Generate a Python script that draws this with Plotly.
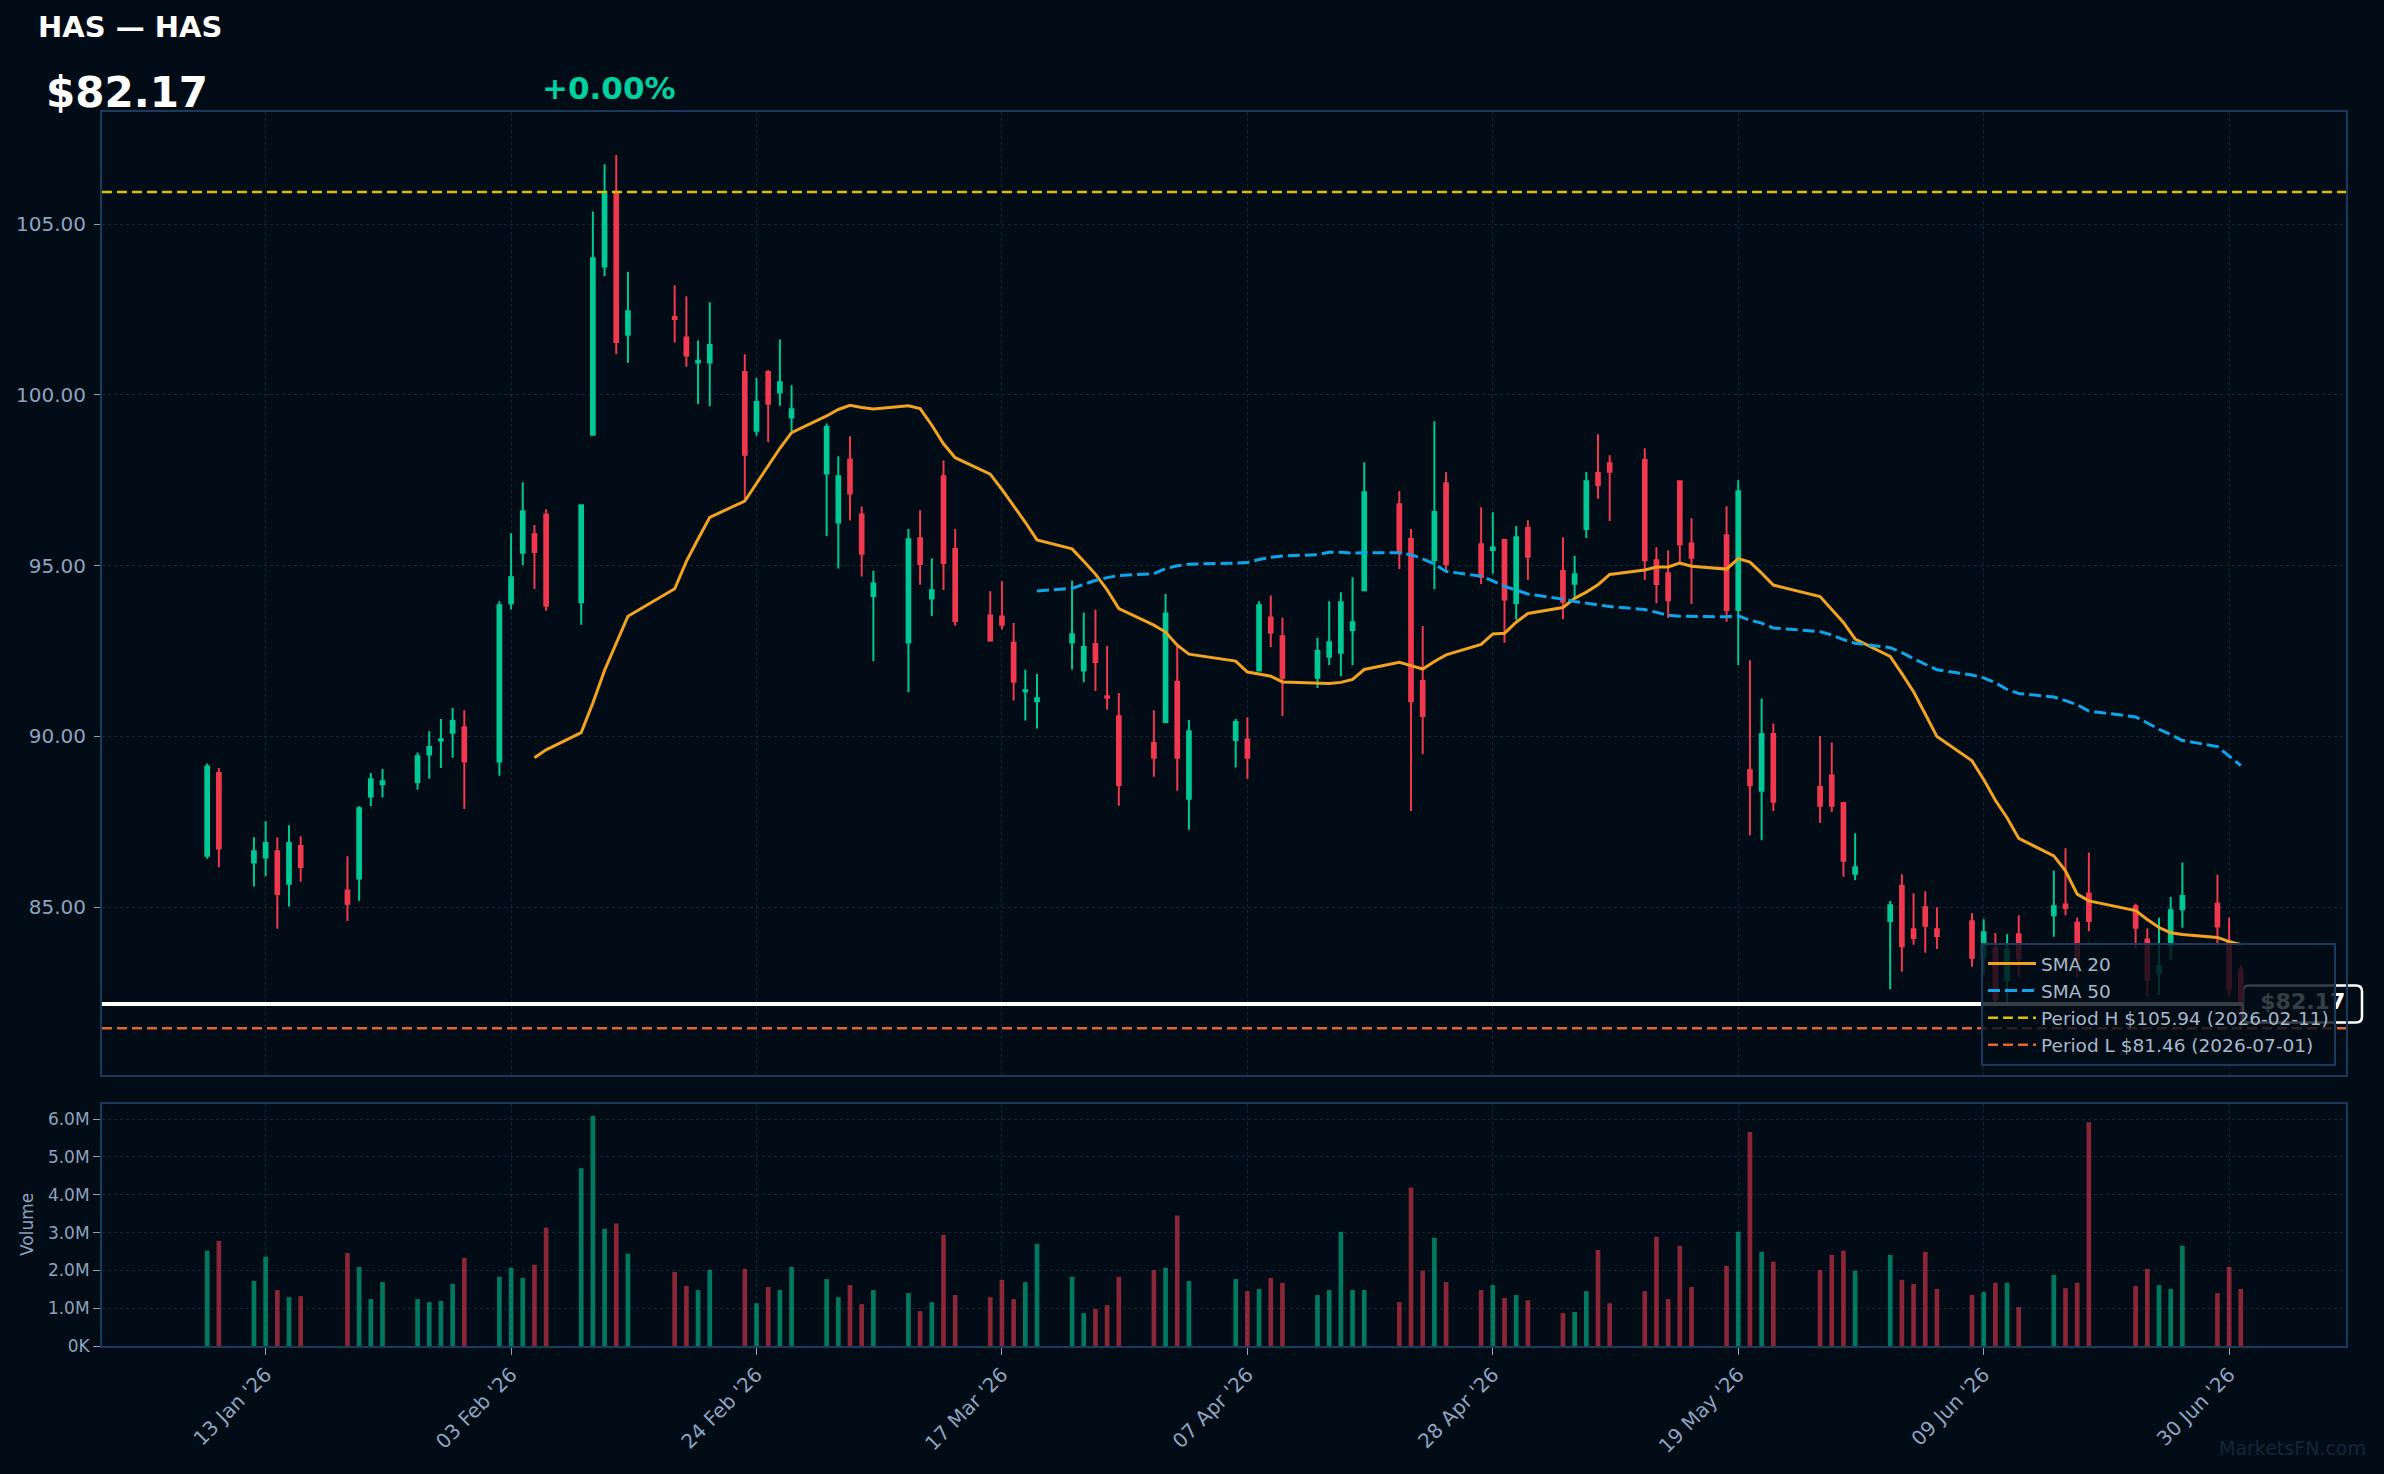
import pandas as pd
import plotly.graph_objects as go

# ---------------- data ----------------
TICKER = "HAS"
dates = [
    "2026-01-08", "2026-01-09", "2026-01-12", "2026-01-13", "2026-01-14", "2026-01-15", "2026-01-16",
    "2026-01-20", "2026-01-21", "2026-01-22", "2026-01-23", "2026-01-26", "2026-01-27", "2026-01-28",
    "2026-01-29", "2026-01-30", "2026-02-02", "2026-02-03", "2026-02-04", "2026-02-05", "2026-02-06",
    "2026-02-09", "2026-02-10", "2026-02-11", "2026-02-12", "2026-02-13", "2026-02-17", "2026-02-18",
    "2026-02-19", "2026-02-20", "2026-02-23", "2026-02-24", "2026-02-25", "2026-02-26", "2026-02-27",
    "2026-03-02", "2026-03-03", "2026-03-04", "2026-03-05", "2026-03-06", "2026-03-09", "2026-03-10",
    "2026-03-11", "2026-03-12", "2026-03-13", "2026-03-16", "2026-03-17", "2026-03-18", "2026-03-19",
    "2026-03-20", "2026-03-23", "2026-03-24", "2026-03-25", "2026-03-26", "2026-03-27", "2026-03-30",
    "2026-03-31", "2026-04-01", "2026-04-02", "2026-04-06", "2026-04-07", "2026-04-08", "2026-04-09",
    "2026-04-10", "2026-04-13", "2026-04-14", "2026-04-15", "2026-04-16", "2026-04-17", "2026-04-20",
    "2026-04-21", "2026-04-22", "2026-04-23", "2026-04-24", "2026-04-27", "2026-04-28", "2026-04-29",
    "2026-04-30", "2026-05-01", "2026-05-04", "2026-05-05", "2026-05-06", "2026-05-07", "2026-05-08",
    "2026-05-11", "2026-05-12", "2026-05-13", "2026-05-14", "2026-05-15", "2026-05-18", "2026-05-19",
    "2026-05-20", "2026-05-21", "2026-05-22", "2026-05-26", "2026-05-27", "2026-05-28", "2026-05-29",
    "2026-06-01", "2026-06-02", "2026-06-03", "2026-06-04", "2026-06-05", "2026-06-08", "2026-06-09",
    "2026-06-10", "2026-06-11", "2026-06-12", "2026-06-15", "2026-06-16", "2026-06-17", "2026-06-18",
    "2026-06-22", "2026-06-23", "2026-06-24", "2026-06-25", "2026-06-26", "2026-06-29", "2026-06-30",
    "2026-07-01",
]
opens = [
    86.51, 88.93, 86.31, 86.46, 86.64, 85.69, 86.79,
    85.49, 85.84, 88.24, 88.60, 88.67, 89.47, 89.88,
    90.11, 90.27, 89.27, 93.90, 95.38, 95.92, 96.50,
    93.93, 98.83, 103.76, 105.90, 101.76, 102.28, 101.68,
    100.95, 100.95, 100.67, 98.95, 100.67, 100.07, 99.34,
    97.70, 96.26, 98.11, 96.50, 94.11, 92.75, 95.80,
    94.04, 97.62, 95.49, 93.54, 93.51, 92.74, 91.32,
    91.03, 92.75, 91.93, 92.71, 91.18, 90.59, 89.81,
    90.42, 91.60, 88.18, 89.90, 89.91, 91.93, 93.48,
    92.93, 91.72, 92.33, 92.45, 93.12, 94.28, 96.80,
    95.78, 91.62, 95.16, 97.41, 95.63, 95.46, 95.75,
    93.91, 96.10, 94.84, 94.47, 96.07, 97.71, 98.00,
    98.09, 95.16, 94.78, 97.47, 95.65, 95.89, 93.70,
    89.01, 88.41, 90.07, 88.52, 88.86, 88.05, 85.98,
    84.60, 85.62, 84.36, 85.00, 84.36, 84.59, 83.55,
    83.80, 82.87, 84.21, 84.77, 85.08, 84.55, 85.40,
    85.03, 84.06, 83.07, 83.88, 84.94, 85.10, 84.00,
    83.18,
]
highs = [
    89.21, 89.08, 87.05, 87.52, 87.05, 87.40, 87.08,
    86.49, 87.96, 88.93, 89.05, 89.53, 90.15, 90.51,
    90.83, 90.77, 93.96, 95.95, 97.44, 96.19, 96.65,
    96.80, 105.37, 106.75, 107.02, 103.60, 103.21, 102.89,
    101.59, 102.71, 101.19, 100.49, 100.73, 101.62, 100.28,
    99.16, 98.20, 98.79, 96.73, 94.84, 96.07, 96.62,
    95.22, 98.08, 96.07, 94.25, 94.54, 93.32, 91.95,
    91.83, 94.56, 93.63, 93.71, 92.65, 91.27, 90.77,
    94.17, 92.66, 90.48, 90.51, 90.56, 93.96, 94.13,
    93.48, 92.89, 93.96, 94.22, 94.66, 98.03, 97.18,
    96.07, 93.23, 99.23, 97.74, 96.71, 96.56, 95.78,
    96.16, 96.33, 95.83, 95.28, 97.74, 98.85, 98.23,
    98.44, 95.54, 95.45, 97.50, 96.39, 96.74, 97.50,
    92.23, 91.11, 90.38, 90.01, 89.82, 88.08, 87.17,
    85.18, 85.97, 85.41, 85.47, 85.00, 84.83, 84.65,
    84.25, 84.21, 84.77, 86.08, 86.73, 84.70, 86.60,
    85.10, 84.38, 84.69, 85.30, 86.31, 85.95, 84.70,
    83.30,
]
lows = [
    86.42, 86.17, 85.61, 85.91, 84.37, 85.02, 85.75,
    84.60, 85.19, 87.96, 88.21, 88.44, 88.76, 89.08,
    89.38, 87.88, 88.85, 93.72, 95.01, 94.32, 93.68,
    93.27, 98.80, 103.48, 101.19, 100.94, 101.53, 100.82,
    99.73, 99.67, 96.92, 98.80, 98.61, 99.68, 98.94,
    95.87, 94.92, 96.32, 94.68, 92.21, 91.30, 94.44,
    93.53, 94.29, 93.24, 92.77, 93.13, 91.05, 90.47,
    90.23, 91.96, 91.59, 91.33, 90.78, 87.97, 88.82,
    90.39, 88.41, 87.27, 89.09, 88.76, 91.92, 92.62,
    90.60, 91.42, 92.09, 91.77, 92.09, 94.28, 94.90,
    87.82, 89.48, 94.31, 94.81, 94.46, 94.76, 92.74,
    93.42, 94.58, 93.43, 94.04, 95.81, 96.96, 96.31,
    94.58, 93.90, 93.47, 95.11, 93.88, 93.36, 92.09,
    87.11, 86.96, 87.82, 87.47, 87.79, 85.89, 85.79,
    82.60, 83.11, 83.90, 83.67, 83.78, 83.26, 83.01,
    82.10, 82.23, 83.00, 84.14, 84.77, 82.95, 84.30,
    83.79, 82.38, 82.43, 83.46, 84.40, 83.86, 82.40,
    81.46,
]
closes = [
    89.12, 86.72, 86.64, 86.88, 85.39, 86.88, 86.18,
    85.10, 87.90, 88.75, 88.69, 89.42, 89.69, 89.92,
    90.45, 89.27, 93.84, 94.66, 96.59, 95.40, 93.83,
    96.77, 104.00, 105.94, 101.55, 102.45, 102.22, 101.15,
    101.00, 101.46, 98.25, 99.79, 99.74, 100.37, 99.58,
    99.06, 97.62, 97.11, 95.35, 94.48, 95.77, 95.05,
    94.28, 95.08, 93.38, 92.81, 93.27, 91.60, 91.35,
    91.12, 92.99, 92.62, 92.18, 91.13, 88.58, 89.38,
    93.60, 89.38, 90.15, 90.42, 89.38, 93.84, 93.04,
    91.72, 92.50, 92.76, 93.93, 93.34, 97.15, 95.36,
    91.03, 90.60, 96.57, 95.04, 94.67, 95.53, 94.01,
    95.83, 95.26, 93.94, 94.75, 97.47, 97.36, 97.75,
    95.16, 94.46, 93.99, 95.63, 95.23, 93.70, 97.18,
    88.57, 90.07, 88.09, 87.97, 87.97, 86.36, 86.17,
    85.06, 83.86, 84.10, 84.46, 84.16, 83.52, 84.27,
    82.30, 83.78, 83.50, 85.03, 84.98, 83.47, 84.60,
    84.40, 82.88, 83.28, 84.91, 85.33, 84.44, 82.60,
    82.17,
]
volumes = [
    2520000, 2780000, 1720000, 2360000, 1480000, 1290000, 1320000,
    2460000, 2090000, 1240000, 1690000, 1240000, 1160000, 1190000,
    1640000, 2330000, 1830000, 2070000, 1800000, 2150000, 3130000,
    4700000, 6080000, 3100000, 3240000, 2440000, 1960000, 1590000,
    1480000, 2010000, 2040000, 1130000, 1560000, 1480000, 2090000,
    1770000, 1290000, 1610000, 1110000, 1480000, 1400000, 920000,
    1160000, 2940000, 1350000, 1290000, 1750000, 1240000, 1690000,
    2700000, 1830000, 870000, 980000, 1080000, 1830000, 2010000,
    2070000, 3450000, 1720000, 1770000, 1450000, 1510000, 1800000,
    1670000, 1350000, 1480000, 3020000, 1480000, 1480000, 1160000,
    4190000, 1990000, 2860000, 1690000, 1480000, 1610000, 1270000,
    1350000, 1210000, 870000, 900000, 1450000, 2540000, 1130000,
    1450000, 2890000, 1240000, 2650000, 1560000, 2120000, 3020000,
    5660000, 2490000, 2230000, 2010000, 2410000, 2520000, 1990000,
    2410000, 1750000, 1640000, 2490000, 1510000, 1350000, 1430000,
    1670000, 1670000, 1030000, 1880000, 1530000, 1670000, 5920000,
    1590000, 2040000, 1610000, 1510000, 2650000, 1400000, 2090000,
    1510000,
]

price_tickvals = [85, 90, 95, 100, 105]
vol_tickvals = [0, 1000000, 2000000, 3000000, 4000000, 5000000, 6000000]
vol_ticktext = ["0K", "1.0M", "2.0M", "3.0M", "4.0M", "5.0M", "6.0M"]

period_high = 105.94
period_high_date = "2026-02-11"
period_low = 81.46
period_low_date = "2026-07-01"
last_price = closes[-1]
change_pct = 0.00

# ---------------- styling ----------------
W, H = 2384, 1474
ML, MR, MT, MB = 102, 38, 112, 128
PW, PH = W - ML - MR, H - MT - MB


def px_x(px):
    return (px - ML) / PW


def px_y(py):
    return (H - MB - py) / PH


BG = "#020c17"
UP = "#00c896"
DN = "#f0384f"
UP_V = "rgba(0,200,150,0.58)"
DN_V = "rgba(240,56,79,0.58)"
GRID = "rgba(70,95,130,0.30)"
BORDER = "#1d3a5c"
TICK = "#8fa3bf"
FONT = "DejaVu Sans"

x_dt = pd.to_datetime(dates)
close_s = pd.Series(closes)
sma20 = close_s.rolling(20).mean()
sma50 = close_s.rolling(50).mean()
day_ms = 86400000
x_range = [x_dt[0] - pd.Timedelta(days=9), x_dt[-1] + pd.Timedelta(days=9)]

fig = go.Figure()

fig.add_trace(go.Candlestick(
    x=x_dt, open=opens, high=highs, low=lows, close=closes,
    increasing=dict(line=dict(color=UP, width=2), fillcolor=UP),
    decreasing=dict(line=dict(color=DN, width=2), fillcolor=DN),
    whiskerwidth=0, showlegend=False, hoverinfo="skip",
    xaxis="x", yaxis="y",
))
fig.add_trace(go.Scatter(
    x=x_dt, y=sma20, mode="lines", name="SMA 20",
    line=dict(color="#f2a31f", width=3), xaxis="x", yaxis="y",
))
fig.add_trace(go.Scatter(
    x=x_dt, y=sma50, mode="lines", name="SMA 50",
    line=dict(color="#0ea5e9", width=3, dash="12px,5px"), xaxis="x", yaxis="y",
))
fig.add_trace(go.Scatter(
    x=[None], y=[None], mode="lines",
    name=f"Period H ${period_high:.2f} ({period_high_date})",
    line=dict(color="#e0bf00", width=2.5, dash="10px,5px"), xaxis="x", yaxis="y",
))
fig.add_trace(go.Scatter(
    x=[None], y=[None], mode="lines",
    name=f"Period L ${period_low:.2f} ({period_low_date})",
    line=dict(color="#e5652e", width=2.5, dash="10px,5px"), xaxis="x", yaxis="y",
))

vol_colors = [UP_V if c >= o else DN_V for o, c in zip(opens, closes)]
fig.add_trace(go.Bar(
    x=x_dt, y=volumes, marker=dict(color=vol_colors, line=dict(width=0)),
    width=0.4 * day_ms, showlegend=False, hoverinfo="skip",
    xaxis="x2", yaxis="y2",
))

# last-price label text (drawn under the legend, like the reference)
label_x = x_dt[-1] + pd.Timedelta(days=5.3)
fig.add_trace(go.Scatter(
    x=[label_x], y=[last_price], mode="text",
    text=[f"<b>${last_price:.2f}</b>"],
    textfont=dict(family=FONT, size=22, color="white"),
    textposition="middle center", cliponaxis=False,
    showlegend=False, hoverinfo="skip", xaxis="x", yaxis="y",
))

box_x0, box_x1 = px_x(2243), px_x(2362)
half_h = 18.5 / 34.16
rx, ry = 6 / PW, 6 / 34.16
y0, y1 = last_price - half_h, last_price + half_h
box_path = (
    f"M {box_x0 + rx},{y0} L {box_x1 - rx},{y0} Q {box_x1},{y0} {box_x1},{y0 + ry} "
    f"L {box_x1},{y1 - ry} Q {box_x1},{y1} {box_x1 - rx},{y1} "
    f"L {box_x0 + rx},{y1} Q {box_x0},{y1} {box_x0},{y1 - ry} "
    f"L {box_x0},{y0 + ry} Q {box_x0},{y0} {box_x0 + rx},{y0} Z"
)

shapes = [
    dict(type="line", xref="paper", yref="y", x0=0, x1=1, y0=period_high, y1=period_high,
         line=dict(color="#e0bf00", width=2.5, dash="10px,5px"), layer="above"),
    dict(type="line", xref="paper", yref="y", x0=0, x1=1, y0=period_low, y1=period_low,
         line=dict(color="#e5652e", width=2.5, dash="10px,5px"), layer="above"),
    dict(type="line", xref="paper", yref="y", x0=0, x1=box_x0, y0=last_price, y1=last_price,
         line=dict(color="#ffffff", width=4), layer="above"),
    dict(type="path", xref="paper", yref="y", path=box_path,
         fillcolor=BG, line=dict(color="#ffffff", width=2.5), layer="below"),
]

annotations = [
    dict(text=f"<b>{TICKER} — {TICKER}</b>", x=px_x(36), y=px_y(27), xref="paper", yref="paper",
         xanchor="left", yanchor="middle", showarrow=False,
         font=dict(family=FONT, size=29, color="#ffffff")),
    dict(text=f"<b>${last_price:.2f}</b>", x=px_x(44), y=px_y(93), xref="paper", yref="paper",
         xanchor="left", yanchor="middle", showarrow=False,
         font=dict(family=FONT, size=42, color="#ffffff")),
    dict(text=f"<b>{change_pct:+.2f}%</b>", x=px_x(540), y=px_y(88), xref="paper", yref="paper",
         xanchor="left", yanchor="middle", showarrow=False,
         font=dict(family=FONT, size=31, color="#00d1a0")),
    dict(text="Volume", x=px_x(27), y=px_y(1225), xref="paper", yref="paper",
         xanchor="center", yanchor="middle", textangle=-90, showarrow=False,
         font=dict(family=FONT, size=17, color=TICK)),
    dict(text="MarketsFN.com", x=px_x(2368), y=px_y(1448), xref="paper", yref="paper",
         xanchor="right", yanchor="middle", showarrow=False,
         font=dict(family=FONT, size=19, color="#15263a")),
]

common_x = dict(
    type="date", range=x_range, tick0="2026-01-13", dtick=21 * day_ms,
    showgrid=True, gridcolor=GRID, griddash="dot", gridwidth=1,
    showline=True, linecolor=BORDER, linewidth=2, mirror=True,
    zeroline=False, rangeslider=dict(visible=False),
)

fig.update_layout(
    width=W, height=H,
    margin=dict(l=ML, r=MR, t=MT, b=MB, pad=0),
    paper_bgcolor=BG, plot_bgcolor=BG,
    font=dict(family=FONT, color=TICK),
    boxgap=0.55,
    hovermode=False,
    showlegend=True,
    legend=dict(
        x=px_x(2336), xanchor="right", y=px_y(1066), yanchor="bottom",
        bgcolor="rgba(2,12,23,0.80)", bordercolor=BORDER, borderwidth=2,
        font=dict(family=FONT, size=18.5, color="#a9b8cc"),
        itemwidth=48, tracegroupgap=0,
    ),
    xaxis=dict(common_x, domain=[0, 1], anchor="y", showticklabels=False, ticks=""),
    yaxis=dict(
        domain=[px_y(1075), 1], anchor="x", range=[80.09, 108.28],
        tickvals=price_tickvals, tickformat=".2f",
        tickfont=dict(family=FONT, size=20, color=TICK),
        ticks="outside", ticklen=6, tickcolor=TICK, ticklabelstandoff=4,
        showgrid=True, gridcolor=GRID, griddash="dot", gridwidth=1,
        showline=True, linecolor=BORDER, linewidth=2, mirror=True, zeroline=False,
    ),
    xaxis2=dict(
        common_x, domain=[0, 1], anchor="y2", matches="x",
        tickformat="%d %b '%y", tickangle=-45,
        tickfont=dict(family=FONT, size=20, color=TICK),
        ticks="outside", ticklen=7, tickcolor=TICK,
    ),
    yaxis2=dict(
        domain=[0, px_y(1104)], anchor="x2", range=[0, 6.4e6],
        tickvals=vol_tickvals, ticktext=vol_ticktext,
        tickfont=dict(family=FONT, size=17, color=TICK),
        ticks="outside", ticklen=7, tickcolor=TICK,
        showgrid=True, gridcolor=GRID, griddash="dot", gridwidth=1,
        showline=True, linecolor=BORDER, linewidth=2, mirror=True, zeroline=False,
    ),
    shapes=shapes,
    annotations=annotations,
)

fig.write_html("out.html")
